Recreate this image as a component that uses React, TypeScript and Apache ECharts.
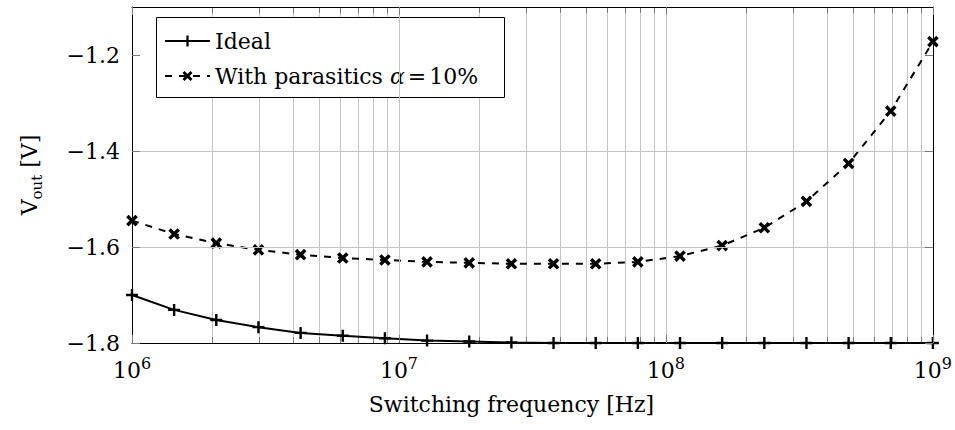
import React, { useEffect, useRef } from "react";
import * as echarts from "echarts";

const FONT = "DejaVu Serif";
const FS = 22;

// Data
const seriesNames = ["Ideal", "With parasitics α=10%"];
const freqHz = [
  1e6, 1.438e6, 2.069e6, 2.976e6, 4.281e6, 6.158e6, 8.859e6, 1.274e7, 1.833e7, 2.637e7,
  3.793e7, 5.456e7, 7.848e7, 1.129e8, 1.624e8, 2.336e8, 3.36e8, 4.833e8, 6.952e8, 1e9,
];
const idealV = [
  -1.7, -1.731, -1.752, -1.767, -1.779, -1.785, -1.79, -1.795, -1.797, -1.799,
  -1.8, -1.8, -1.8, -1.8, -1.8, -1.8, -1.8, -1.8, -1.8, -1.8,
];
const parasiticV = [
  -1.545, -1.573, -1.592, -1.606, -1.616, -1.623, -1.627, -1.631, -1.633, -1.635,
  -1.635, -1.635, -1.631, -1.619, -1.597, -1.56, -1.505, -1.426, -1.317, -1.172,
];
const yTickValues = [-1.8, -1.6, -1.4, -1.2];
const decadeStarts = [1e6, 1e7, 1e8];
const minorMultipliers = [2, 3, 4, 5, 6, 7, 8, 9];
const xAxisLabel = "Switching frequency [Hz]";

const PLUS = "path://M4.8,0H7.2V4.8H12V7.2H7.2V12H4.8V7.2H0V4.8H4.8Z";
const CROSS = "path://M4.4,0H7.6V4.4H12V7.6H7.6V12H4.4V7.6H0V4.4H4.4Z";

const GRID = "#c4c4c4";
const TICK = "#7a7a7a";

export default function App() {
  const ref = useRef<HTMLDivElement>(null);
  useEffect(() => {
    document.body.style.margin = "0";
    const chart = echarts.init(ref.current!, null, { renderer: "svg" });
    const minorTickValues = decadeStarts.flatMap((d) => minorMultipliers.map((m) => m * d));
    const option: any = {
      animation: false,
      textStyle: { fontFamily: FONT },
      grid: { left: 132, right: 22, top: 7, bottom: 87, containLabel: false },
      xAxis: [
        {
          type: "log",
          logBase: 10,
          min: 1e6,
          max: 1e9,
          splitNumber: 3,
          position: "bottom",
          axisLine: { show: true, lineStyle: { color: "#000", width: 1 } },
          axisTick: { show: true, inside: true, length: 8, lineStyle: { color: TICK } },
          axisLabel: {
            margin: 12,
            color: "#000",
            fontFamily: FONT,
            formatter: (v: number) => `{b|10}{s|${Math.round(Math.log10(v))}}`,
            rich: {
              b: { fontFamily: FONT, fontSize: FS, lineHeight: 30, color: "#000" },
              s: { fontFamily: FONT, fontSize: 16, lineHeight: 17, verticalAlign: "top", color: "#000" },
            },
          },
          splitLine: { show: true, showMinLine: false, showMaxLine: false, lineStyle: { color: GRID, width: 1 } },
          name: xAxisLabel,
          nameLocation: "middle",
          nameGap: 50,
          nameTextStyle: { fontFamily: FONT, fontSize: FS, color: "#000", padding: [0, 42, 0, 0] },
          z: 10,
        },
        {
          type: "log",
          logBase: 10,
          min: 1e6,
          max: 1e9,
          splitNumber: 3,
          position: "top",
          axisLine: { show: true, lineStyle: { color: "#000", width: 1 } },
          axisTick: { show: true, inside: true, length: 8, lineStyle: { color: TICK } },
          axisLabel: { show: false },
          splitLine: { show: false },
          z: 10,
        },
      ],
      yAxis: [
        {
          type: "value",
          min: -1.8,
          max: -1.1,
          interval: 0.2,
          position: "left",
          axisLine: { show: true, lineStyle: { color: "#000", width: 1 } },
          axisTick: { show: true, inside: true, length: 8, lineStyle: { color: TICK }, customValues: yTickValues },
          axisLabel: {
            margin: 12,
            color: "#000",
            fontFamily: FONT,
            fontSize: FS,
            customValues: yTickValues,
            formatter: (v: number) => (v < 0 ? "\u2212" : "") + Math.abs(v).toFixed(1),
          },
          splitLine: { show: true, showMinLine: false, showMaxLine: false, lineStyle: { color: GRID, width: 1 } },
          name: "{v|V}{s|out}{v| [V]}",
          nameLocation: "middle",
          nameRotate: 90,
          nameGap: 88,
          nameTextStyle: {
            color: "#000",
            fontFamily: FONT,
            rich: {
              v: { fontFamily: FONT, fontSize: FS, lineHeight: 30, color: "#000" },
              s: { fontFamily: FONT, fontSize: 15, lineHeight: 17, verticalAlign: "bottom", color: "#000" },
            },
          },
          z: 10,
        },
        {
          type: "value",
          min: -1.8,
          max: -1.1,
          interval: 0.2,
          position: "right",
          axisLine: { show: true, lineStyle: { color: "#000", width: 1 } },
          axisTick: { show: true, inside: true, length: 8, lineStyle: { color: TICK }, customValues: yTickValues },
          axisLabel: { show: false },
          splitLine: { show: false },
          z: 10,
        },
      ],
      legend: {
        data: seriesNames,
        orient: "vertical",
        left: 164,
        top: 29,
        padding: 0,
        itemWidth: 45,
        itemHeight: 14,
        itemGap: 11,
        selectedMode: false,
        formatter: (name: string) =>
          name === seriesNames[1] ? "With parasitics {i|α}{e|=}10%" : name,
        textStyle: {
          fontFamily: FONT,
          fontSize: FS,
          lineHeight: 24,
          color: "#000",
          rich: {
            i: { fontFamily: FONT, fontSize: FS, lineHeight: 24, fontStyle: "italic", color: "#000" },
            e: { fontFamily: FONT, fontSize: FS, lineHeight: 24, padding: [0, 3], color: "#000" },
          },
        },
        z: 5,
      },
      graphic: [
        {
          type: "rect",
          shape: { x: 156.5, y: 17.5, width: 348, height: 80 },
          style: { fill: "#fff", stroke: "#000", lineWidth: 1 },
          z: 4,
          silent: true,
        },
      ],
      series: [
        {
          type: "custom",
          silent: true,
          z: 1,
          xAxisIndex: 0,
          yAxisIndex: 0,
          clip: false,
          data: minorTickValues.map((v) => [v, -1.8]),
          encode: { x: 0, y: 1 },
          renderItem: (params: any, api: any) => {
            const cs = params.coordSys;
            const px = Math.round(api.coord([api.value(0), api.value(1)])[0]) + 0.5;
            const top = cs.y;
            const bottom = cs.y + cs.height;
            return {
              type: "group",
              children: [
                { type: "line", shape: { x1: px, y1: top, x2: px, y2: bottom }, style: { stroke: GRID, lineWidth: 1 } },
                { type: "line", shape: { x1: px, y1: top, x2: px, y2: top + 6 }, style: { stroke: TICK, lineWidth: 1 } },
                { type: "line", shape: { x1: px, y1: bottom - 6, x2: px, y2: bottom }, style: { stroke: TICK, lineWidth: 1 } },
              ],
            };
          },
        },
        {
          name: seriesNames[0],
          type: "line",
          xAxisIndex: 0,
          yAxisIndex: 0,
          data: freqHz.map((f, i) => [f, idealV[i]]),
          symbol: PLUS,
          symbolSize: 12,
          lineStyle: { color: "#000", width: 2 },
          itemStyle: { color: "#000" },
          clip: false,
          z: 3,
        },
        {
          name: seriesNames[1],
          type: "line",
          xAxisIndex: 0,
          yAxisIndex: 0,
          data: freqHz.map((f, i) => [f, parasiticV[i]]),
          symbol: CROSS,
          symbolRotate: 45,
          symbolSize: 13,
          lineStyle: { color: "#000", width: 2, type: [7, 7] },
          itemStyle: { color: "#000" },
          clip: false,
          z: 3,
        },
      ],
    };
    chart.setOption(option);
    return () => chart.dispose();
  }, []);
  return (
    <div
      ref={ref}
      style={{ position: "absolute", left: 0, top: 0, width: 955, height: 430, background: "#fff" }}
    />
  );
}
